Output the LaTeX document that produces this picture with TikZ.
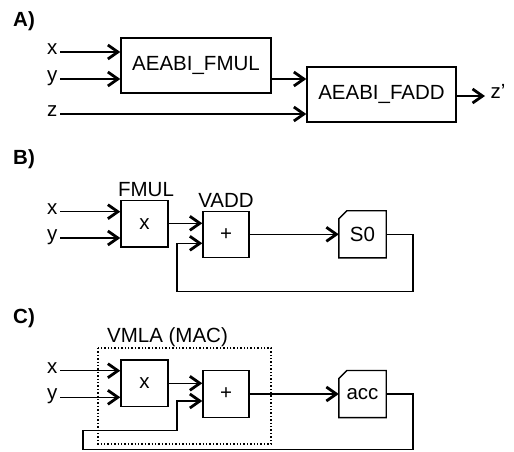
\documentclass[tikz,border=0pt]{standalone}
\usepackage{fontspec}
\setmainfont{Liberation Sans}
\usetikzlibrary{arrows.meta,calc}
\begin{document}
\begin{tikzpicture}[x=1pt,y=-1pt,
  every node/.append style={font=\fontsize{20.5}{24}\selectfont},
  box/.style={draw,line width=1.4pt,inner sep=0pt},
  plain/.style={inner sep=0pt},
  lbl/.style={inner xsep=2.5pt,inner ysep=0pt,text height=1ex,text depth=0pt},
  panel/.style={anchor=west,inner sep=0pt,font=\bfseries\fontsize{20.5}{24}\selectfont},
  wire/.style={line width=1.4pt},
  arr/.style={line width=1.4pt,-{Straight Barb[length=10pt,width=14pt,line width=2.8pt]}},
  group/.style={draw,dotted,line width=1.4pt}]
\useasboundingbox (0,0) rectangle (514,451);
% ---------- A ----------
\node[panel] (pA) at (13,21) {A)};
\node[box,minimum width=150,minimum height=55] (mulA) at (196,65.5) {AEABI\_FMUL};
\node[box,minimum width=149,minimum height=55] (addA) at (381.5,94.5) {AEABI\_FADD};
\node[lbl,anchor=east] (xA) at (60,52) {x};
\node[lbl,anchor=east] (yA) at (60,79) {y};
\node[lbl,anchor=east] (zA) at (60,114) {z};
\node[lbl,anchor=west] (zo) at (488,96) {z'};
\draw[arr] (xA.east) -- (xA.east -| mulA.west);
\draw[arr] (yA.east) -- (yA.east -| mulA.west);
\draw[arr] (zA.east) -- (zA.east -| addA.west);
\coordinate (mA) at (mulA.east |- yA.east);
\draw[arr] (mA) -- (mA -| addA.west);
\draw[arr,shorten >=3pt] (addA.east |- zo.west) -- (zo.west);
% ---------- B ----------
\node[panel] (pB) at (13,159) {B)};
\node[box,minimum width=47,minimum height=46.3] (mulB) at (144.5,223.8) {x};
\node[plain,anchor=base] (fmulL) at (146,196) {FMUL};
\node[box,minimum width=46,minimum height=46] (addB) at (226,234.7) {+};
\node[plain,anchor=base] (vaddL) at (226,207) {VADD};
\node[plain,minimum width=47,minimum height=46.7] (s0) at (362.5,234.3) {S0};
\draw[wire] ($(s0.north west)+(0,8)$) -- ($(s0.north west)+(8,0)$) -- (s0.north east)
  -- (s0.south east) -- (s0.south west) -- cycle;
\node[lbl,anchor=east] (xB) at (60,211.7) {x};
\node[lbl,anchor=east] (yB) at (60,238) {y};
\draw[arr] (xB.east) -- (xB.east -| mulB.west);
\draw[arr] (yB.east) -- (yB.east -| mulB.west);
\coordinate (mB) at (mulB.east |- 0,223.3);
\draw[arr] (mB) -- (mB -| addB.west);
\draw[arr] (addB.east |- s0.west) -- (s0.west);
\coordinate (fB1) at (413,291.7);
\coordinate (fB2) at (177,243.3);
\draw[arr] (s0.east) -| (fB1) -| (fB2) -- (fB2 -| addB.west);
% ---------- C ----------
\node[panel] (pC) at (13,318) {C)};
\node[plain,anchor=base] (vmlaL) at (167.5,342.5) {VMLA (MAC)};
\draw[group] (98,348) rectangle (271,444);
\node[box,minimum width=47,minimum height=46.7] (mulC) at (144.5,383.3) {x};
\node[box,minimum width=46,minimum height=46.7] (addC) at (226,394) {+};
\node[plain,minimum width=47,minimum height=46.7] (acc) at (362.5,394) {acc};
\draw[wire] ($(acc.north west)+(0,8)$) -- ($(acc.north west)+(8,0)$) -- (acc.north east)
  -- (acc.south east) -- (acc.south west) -- cycle;
\node[lbl,anchor=east] (xC) at (60,370.7) {x};
\node[lbl,anchor=east] (yC) at (60,397.3) {y};
\draw[arr] (xC.east) -- (xC.east -| mulC.west);
\draw[arr] (yC.east) -- (yC.east -| mulC.west);
\coordinate (mC) at (mulC.east |- 0,383.3);
\draw[arr] (mC) -- (mC -| addC.west);
\draw[arr] (addC.east |- acc.west) -- (acc.west);
\coordinate (fC1) at (413,449.3);
\coordinate (fC2) at (83,430.7);
\coordinate (fC3) at (177,401);
\draw[arr] (acc.east) -| (fC1) -| (fC2) -| (fC3) -- (fC3 -| addC.west);
\end{tikzpicture}
\end{document}
